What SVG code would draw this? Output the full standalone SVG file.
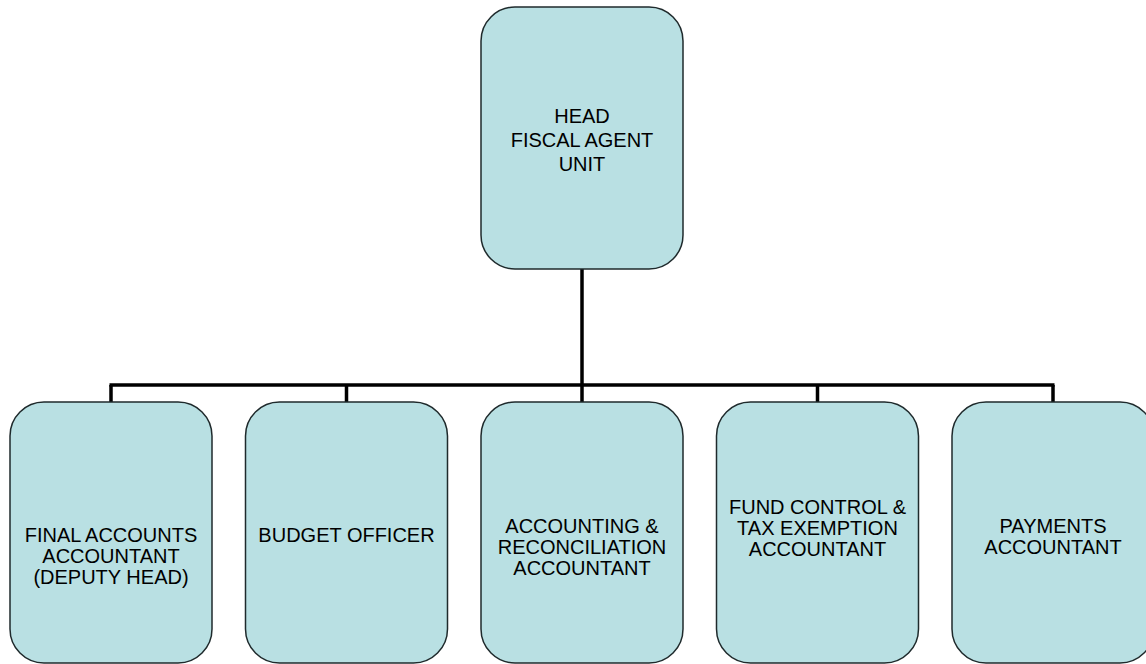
<svg xmlns="http://www.w3.org/2000/svg" width="1146" height="664" viewBox="0 0 1146 664">
  <style>
    .box { fill: #b9e0e3; stroke: #1f2a2c; stroke-width: 1.5; }
    .lbl { font-family: "Liberation Sans", Arial, sans-serif; font-size: 20px; fill: #000; text-anchor: middle; }
    .wire { fill: none; stroke: #000; stroke-width: 3.5; stroke-linecap: butt; }
  </style>
  <rect width="1146" height="664" fill="#ffffff"/>

  <!-- connectors: trunk, bus bar and drops -->
  <g id="connectors">
    <path class="wire" d="M582,269 V385"/>
    <path class="wire" d="M109.5,385 H1054.5"/>
    <path class="wire" d="M111,385 V402 M346.5,385 V402 M582,385 V402 M817.5,385 V402 M1053,385 V402"/>
  </g>

  <g id="head">
    <rect class="box" x="481" y="7" width="202" height="262" rx="34" ry="34"/>
    <text class="lbl" x="582" y="123">HEAD</text>
    <text class="lbl" x="582" y="147">FISCAL AGENT</text>
    <text class="lbl" x="582" y="171">UNIT</text>
  </g>

  <g id="final-accounts">
    <rect class="box" x="10" y="402" width="202" height="261" rx="34" ry="34"/>
    <text class="lbl" x="111" y="542">FINAL ACCOUNTS</text>
    <text class="lbl" x="111" y="563">ACCOUNTANT</text>
    <text class="lbl" x="111" y="584">(DEPUTY HEAD)</text>
  </g>

  <g id="budget-officer">
    <rect class="box" x="245.5" y="402" width="202" height="261" rx="34" ry="34"/>
    <text class="lbl" x="346.5" y="542">BUDGET OFFICER</text>
  </g>

  <g id="accounting-reconciliation">
    <rect class="box" x="481" y="402" width="202" height="261" rx="34" ry="34"/>
    <text class="lbl" x="582" y="533">ACCOUNTING &amp;</text>
    <text class="lbl" x="582" y="554">RECONCILIATION</text>
    <text class="lbl" x="582" y="575">ACCOUNTANT</text>
  </g>

  <g id="fund-control">
    <rect class="box" x="716.5" y="402" width="202" height="261" rx="34" ry="34"/>
    <text class="lbl" x="817.5" y="514">FUND CONTROL &amp;</text>
    <text class="lbl" x="817.5" y="535">TAX EXEMPTION</text>
    <text class="lbl" x="817.5" y="556">ACCOUNTANT</text>
  </g>

  <g id="payments">
    <rect class="box" x="952" y="402" width="202" height="261" rx="34" ry="34"/>
    <text class="lbl" x="1053" y="533">PAYMENTS</text>
    <text class="lbl" x="1053" y="554">ACCOUNTANT</text>
  </g>
</svg>
